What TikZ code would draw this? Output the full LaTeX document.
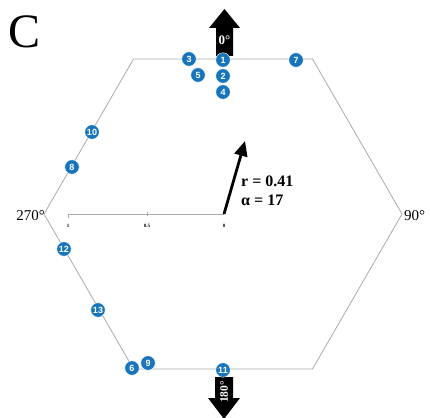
\documentclass[tikz,border=0pt]{standalone}
\usepackage{fontspec}
\setmainfont{Liberation Serif}
\newfontfamily\numfont{Liberation Sans}
\usetikzlibrary{arrows.meta}
\definecolor{dotblue}{RGB}{24,117,188}
\definecolor{hexgray}{RGB}{170,170,170}
\begin{document}
\begin{tikzpicture}[x=1pt,y=-1pt,
  dot/.style={circle,fill=dotblue,draw=white,line width=0.4pt,minimum size=14.5pt,inner sep=0pt,text=white,font=\numfont\bfseries\fontsize{9}{9}\selectfont},
  hexline/.style={draw=hexgray,line width=0.8pt},
  deg/.style={font=\fontsize{15}{16}\selectfont},
  ticklab/.style={font=\bfseries\fontsize{5}{6}\selectfont,inner sep=0pt},
  stat/.style={font=\bfseries\fontsize{16}{18}\selectfont,anchor=west,inner sep=0pt},
  blockarrow/.style={fill=black,draw=none},
  arrowtext/.style={text=white,font=\bfseries\fontsize{13}{14}\selectfont,inner sep=0pt}
]
\useasboundingbox (0,0) rectangle (430,417);
% panel letter
\node[font=\fontsize{48}{50}\selectfont,inner sep=0pt] (letter) at (25,32) {C};
% hexagon
\coordinate (vL) at (44,214);
\coordinate (vTL) at (133.5,59);
\coordinate (vTR) at (312.5,59);
\coordinate (vR) at (402,214);
\coordinate (vBR) at (312.5,369);
\coordinate (vBL) at (133.5,369);
\draw[hexline] (vL) -- (vTL) -- (vTR) -- (vR) -- (vBR) -- (vBL) -- cycle;
% direction arrows
\fill[blockarrow] (216,56) -- (216,28) -- (209,28) -- (224.5,9) -- (240,28) -- (233,28) -- (233,56) -- cycle;
\node[arrowtext] (zero) at (224.5,40) {0°};
\fill[blockarrow] (215,377) -- (233,377) -- (233,398) -- (240,398) -- (224,419) -- (208,398) -- (215,398) -- cycle;
\node[arrowtext,rotate=90,font=\bfseries\fontsize{11.5}{12}\selectfont] (oneeighty) at (224,392) {180°};
% degree labels
\node[deg,anchor=east,inner sep=0pt] (w) at (45,216) {270°};
\node[deg,anchor=west,inner sep=0pt] (e) at (404,216) {90°};
% radial axis
\coordinate (o) at (224,214);
\coordinate (one) at (68,214);
\coordinate (half) at (147,214);
\draw[hexline] (o) -- (one) -- ++(0,4);
\draw[hexline] ([yshift=-2pt]half) -- ([yshift=2pt]half);
\node[ticklab] (l1) at (68,226) {1};
\node[ticklab] (l05) at (147,226) {0.5};
\node[ticklab] (l0) at (224,226) {0};
% mean vector
\coordinate (tip) at (245,141);
\draw[line width=2.8pt,-{Triangle[length=15pt,width=13pt]}] (o) -- (tip);
\node[stat] (r) at (241,181) {r = 0.41};
\node[stat] (a) at (241,200) {α = 17};
% data points
\node[dot] (d3) at (189,59) {3};
\node[dot] (d5) at (198,75) {5};
\node[dot] (d1) at (223,60) {1};
\node[dot] (d2) at (223,76) {2};
\node[dot] (d4) at (223,92) {4};
\node[dot] (d7) at (296,60) {7};
\node[dot] (d10) at (92,132) {10};
\node[dot] (d8) at (72,167) {8};
\node[dot] (d12) at (64,249) {12};
\node[dot] (d13) at (98,310) {13};
\node[dot] (d6) at (132,368) {6};
\node[dot] (d9) at (148,363) {9};
\node[dot] (d11) at (223,370) {11};
\end{tikzpicture}
\end{document}
